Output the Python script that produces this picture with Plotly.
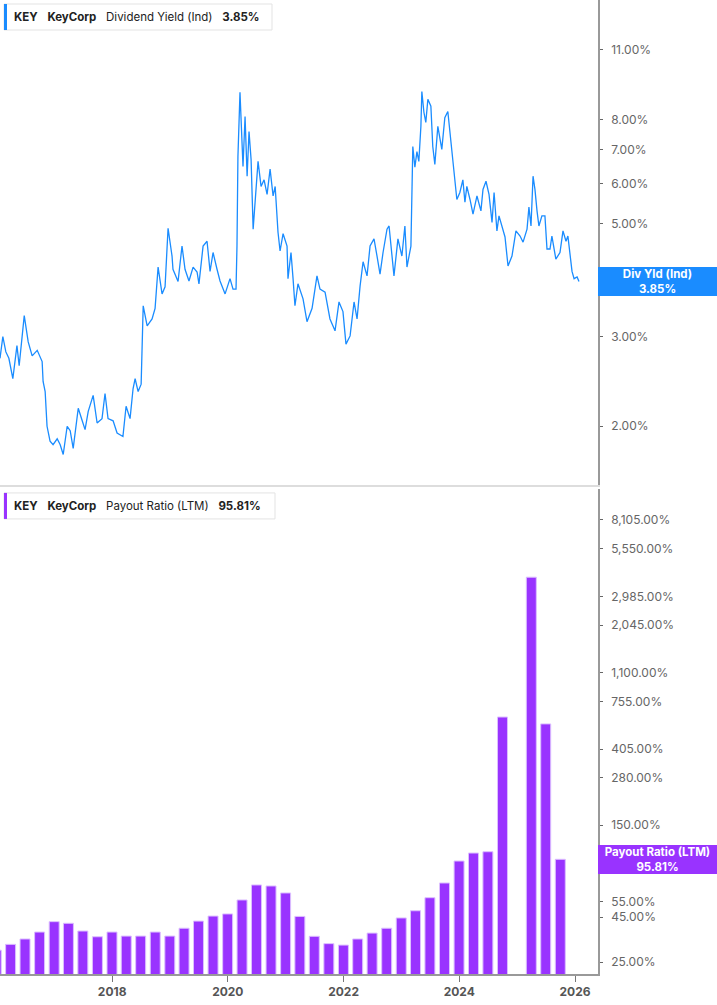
import math
import plotly.graph_objects as go
from plotly.subplots import make_subplots

# ---------------- data ----------------
yield_dates = [
    "2016-01-24", "2016-02-11", "2016-03-01", "2016-03-20", "2016-04-14", "2016-05-10", "2016-05-24",
    "2016-06-25", "2016-07-20", "2016-08-14", "2016-09-15", "2016-10-16", "2016-10-22", "2016-11-04",
    "2016-11-16", "2016-12-05", "2016-12-24", "2017-01-19", "2017-02-07", "2017-02-26", "2017-03-23",
    "2017-04-11", "2017-04-30", "2017-06-01", "2017-06-26", "2017-07-14", "2017-08-03", "2017-09-03",
    "2017-09-28", "2017-10-29", "2017-11-17", "2017-12-06", "2018-01-07", "2018-02-01", "2018-03-10",
    "2018-03-30", "2018-04-24", "2018-05-13", "2018-05-26", "2018-06-14", "2018-07-03", "2018-07-16",
    "2018-08-10", "2018-09-10", "2018-09-29", "2018-10-18", "2018-11-12", "2018-12-01", "2018-12-20",
    "2019-01-14", "2019-01-20", "2019-02-21", "2019-03-18", "2019-04-06", "2019-05-01", "2019-05-27",
    "2019-06-21", "2019-07-03", "2019-07-29", "2019-08-23", "2019-09-11", "2019-09-30", "2019-10-25",
    "2019-11-13", "2019-12-15", "2020-01-15", "2020-02-03", "2020-02-22", "2020-02-28", "2020-03-05",
    "2020-03-18", "2020-04-06", "2020-04-19", "2020-05-02", "2020-05-14", "2020-05-27", "2020-06-09",
    "2020-06-21", "2020-07-10", "2020-07-29", "2020-08-17", "2020-09-05", "2020-09-24", "2020-10-13",
    "2020-10-26", "2020-11-13", "2020-11-26", "2020-12-15", "2021-01-09", "2021-01-15", "2021-02-03",
    "2021-02-16", "2021-02-28", "2021-03-19", "2021-04-01", "2021-04-20", "2021-05-15", "2021-06-16",
    "2021-07-17", "2021-08-05", "2021-09-06", "2021-10-07", "2021-11-08", "2021-12-03", "2021-12-28",
    "2022-01-16", "2022-02-11", "2022-03-08", "2022-03-27", "2022-04-15", "2022-05-04", "2022-05-29",
    "2022-06-17", "2022-07-12", "2022-07-31", "2022-08-19", "2022-09-07", "2022-10-02", "2022-10-15",
    "2022-11-15", "2022-12-10", "2023-01-04", "2023-01-23", "2023-02-05", "2023-03-02", "2023-03-14",
    "2023-03-27", "2023-04-09", "2023-04-21", "2023-05-04", "2023-05-10", "2023-05-23", "2023-06-04",
    "2023-06-17", "2023-07-06", "2023-07-18", "2023-07-31", "2023-08-19", "2023-09-13", "2023-10-02",
    "2023-10-21", "2023-11-09", "2023-11-22", "2023-12-04", "2023-12-17", "2024-01-05", "2024-01-24",
    "2024-02-06", "2024-02-18", "2024-03-09", "2024-03-28", "2024-04-22", "2024-05-17", "2024-05-30",
    "2024-06-18", "2024-07-07", "2024-07-26", "2024-08-08", "2024-08-26", "2024-09-08", "2024-09-27",
    "2024-10-16", "2024-11-04", "2024-11-29", "2024-12-24", "2025-01-19", "2025-02-07", "2025-03-04",
    "2025-03-16", "2025-03-29", "2025-04-11", "2025-04-23", "2025-05-06", "2025-05-18", "2025-06-06",
    "2025-06-25", "2025-07-08", "2025-07-27", "2025-08-08", "2025-09-02", "2025-09-28", "2025-10-17",
    "2025-11-05", "2025-11-17", "2025-12-13", "2025-12-26", "2026-01-14", "2026-01-26",
]
yield_values = [
    2.72, 3.00, 2.80, 2.72, 2.48, 2.88, 2.63,
    3.30, 2.93, 2.75, 2.82, 2.68, 2.45, 2.34,
    2.00, 1.87, 1.84, 1.89, 1.84, 1.76, 2.00,
    1.96, 1.81, 2.17, 2.05, 1.97, 2.14, 2.30,
    2.03, 2.07, 2.32, 2.07, 2.05, 1.94, 1.91,
    2.19, 2.07, 2.37, 2.48, 2.34, 2.42, 3.45,
    3.15, 3.25, 3.41, 4.11, 3.64, 3.76, 4.90,
    4.32, 4.07, 3.85, 4.52, 4.07, 3.86, 4.11,
    4.02, 3.81, 4.52, 4.62, 4.03, 4.39, 4.07,
    3.86, 3.64, 3.90, 3.72, 3.72, 4.52, 6.78,
    9.06, 6.48, 8.12, 6.20, 7.59, 6.69, 4.88,
    5.58, 6.63, 5.92, 6.10, 5.71, 6.40, 5.67,
    5.92, 4.81, 4.42, 4.78, 4.52, 3.90, 4.39,
    3.90, 3.45, 3.81, 3.72, 3.56, 3.21, 3.41,
    3.95, 3.72, 3.67, 3.25, 3.08, 3.51, 3.36,
    2.90, 3.01, 3.51, 3.25, 3.77, 4.21, 3.95,
    4.52, 4.67, 4.32, 3.98, 4.39, 4.88, 4.95,
    3.95, 4.67, 4.32, 4.95, 4.11, 4.52, 7.09,
    6.46, 6.93, 6.63, 7.77, 9.09, 8.28, 7.91,
    8.78, 8.51, 7.09, 6.54, 7.77, 7.00, 8.08,
    8.31, 7.32, 6.69, 6.06, 5.58, 5.76, 6.10,
    5.51, 5.92, 5.58, 5.22, 5.67, 5.30, 5.84,
    6.06, 5.71, 5.03, 5.76, 4.84, 5.18, 4.95,
    4.71, 4.13, 4.32, 4.84, 4.73, 4.60, 4.88,
    5.39, 4.95, 6.20, 5.84, 5.30, 4.95, 5.18,
    5.18, 4.46, 4.46, 4.73, 4.26, 4.39, 4.84,
    4.62, 4.73, 4.03, 3.90, 3.93, 3.85,
]

payout_dates = [
    "2015-12-31", "2016-03-31", "2016-06-30", "2016-09-30", "2016-12-31",
    "2017-03-31", "2017-06-30", "2017-09-30", "2017-12-31",
    "2018-03-31", "2018-06-30", "2018-09-30", "2018-12-31",
    "2019-03-31", "2019-06-30", "2019-09-30", "2019-12-31",
    "2020-03-31", "2020-06-30", "2020-09-30", "2020-12-31",
    "2021-03-31", "2021-06-30", "2021-09-30", "2021-12-31",
    "2022-03-31", "2022-06-30", "2022-09-30", "2022-12-31",
    "2023-03-31", "2023-06-30", "2023-09-30", "2023-12-31",
    "2024-03-31", "2024-06-30", "2024-09-30", "2024-12-31",
    "2025-03-31", "2025-06-30", "2025-09-30",
]
payout_values = [
    29.2, 31.5, 33.8, 37.0, 42.4,
    41.5, 37.5, 34.8, 37.0,
    35.1, 35.1, 37.0, 35.1,
    38.9, 42.7, 45.6, 46.9,
    56.3, 68.5, 67.6, 61.7,
    45.4, 35.0, 31.8, 31.2,
    33.8, 36.5, 38.9, 44.5,
    48.9, 58.0, 70.3, 93.7,
    104.0, 105.8, 616.0, None,
    3835.0, 563.0, 95.81,
]

yield_tickvals = [2, 3, 4, 5, 6, 7, 8, 11]
yield_ticktext = ["2.00%", "3.00%", "4.00%", "5.00%", "6.00%", "7.00%", "8.00%", "11.00%"]
payout_tickvals = [25, 45, 55, 150, 280, 405, 755, 1100, 2045, 2985, 5550, 8105]
payout_ticktext = ["25.00%", "45.00%", "55.00%", "150.00%", "280.00%", "405.00%", "755.00%",
                   "1,100.00%", "2,045.00%", "2,985.00%", "5,550.00%", "8,105.00%"]
year_ticks = ["2018-01-01", "2020-01-01", "2022-01-01", "2024-01-01", "2026-01-01"]

ticker = "KEY"
company = "KeyCorp"
yield_name = "Dividend Yield (Ind)"
payout_name = "Payout Ratio (LTM)"
yield_last = 3.85
payout_last = 95.81

# ---------------- style ----------------
BLUE = "#1a8cff"
PURPLE = "#9933ff"
FONT = "Inter"
W, H = 717, 1005
ML, MR, MT, MB = 0, 119, 0, 31
TOP_DOM = [0.502, 1.0]
BOT_DOM = [0.0, 0.498]

fig = make_subplots(rows=2, cols=1, shared_xaxes=True, vertical_spacing=0.004)

fig.add_trace(go.Scatter(x=yield_dates, y=yield_values, mode="lines",
                         line=dict(color=BLUE, width=1.3), hoverinfo="skip",
                         showlegend=False), row=1, col=1)
fig.add_trace(go.Bar(x=payout_dates, y=payout_values,
                     marker=dict(color=PURPLE, line=dict(color="#dcbfff", width=1)),
                     width=[63 * 86400000] * len(payout_dates),
                     hoverinfo="skip", showlegend=False), row=2, col=1)

xrange = ["2016-01-24", "2026-05-26"]
fig.update_xaxes(range=xrange, showgrid=False, zeroline=False)
fig.update_layout(
    xaxis=dict(domain=[0, 1], showticklabels=False, ticks="", showline=True,
               linecolor="#dddddd", linewidth=2),
    xaxis2=dict(domain=[0, 1], showline=True, linecolor="#999999", linewidth=1.5,
                ticks="outside", ticklen=6, tickcolor="#777777", tickwidth=1,
                tickvals=year_ticks, ticktext=[t[:4] for t in year_ticks],
                tickfont=dict(family=FONT, size=12, color="#555555", weight="bold")),
    yaxis=dict(domain=TOP_DOM, type="log", side="right",
               range=[math.log10(1.533), math.log10(13.76)],
               tickvals=yield_tickvals, ticktext=yield_ticktext,
               showgrid=False, zeroline=False, showline=True, linecolor="#999999", linewidth=1.5,
               ticks="outside", ticklen=3, tickcolor="#666666",
               ticklabelstandoff=6,
               tickfont=dict(family=FONT, size=12, color="#666666")),
    yaxis2=dict(domain=BOT_DOM, type="log", side="right",
                range=[1.330, 4.085],
                tickvals=payout_tickvals, ticktext=payout_ticktext,
                showgrid=False, zeroline=False, showline=True, linecolor="#999999", linewidth=1.5,
                ticks="outside", ticklen=3, tickcolor="#666666",
                ticklabelstandoff=6,
                tickfont=dict(family=FONT, size=12, color="#666666")),
    width=W, height=H,
    margin=dict(l=ML, r=MR, t=MT, b=MB),
    paper_bgcolor="white", plot_bgcolor="white",
    bargap=0.3,
)

shapes = []
annotations = []


def header(ytop, width, color, name, last):
    shapes.append(dict(type="rect", xref="paper", yref="paper", layer="above",
                       xsizemode="pixel", ysizemode="pixel", xanchor=0, yanchor=ytop,
                       x0=4, x1=4 + width, y0=-30, y1=-4,
                       fillcolor="white", line=dict(color="#e3e3e3", width=1)))
    shapes.append(dict(type="rect", xref="paper", yref="paper", layer="above",
                       xsizemode="pixel", ysizemode="pixel", xanchor=0, yanchor=ytop,
                       x0=4, x1=7, y0=-30, y1=-4,
                       fillcolor=color, line=dict(width=0)))
    sp = "&nbsp;&nbsp;&nbsp;"
    annotations.append(dict(xref="paper", yref="paper", x=0, y=ytop, xshift=12, yshift=-17,
                            xanchor="left", yanchor="middle", showarrow=False,
                            text=f"<b>{ticker}</b>{sp}<b>{company}</b>{sp}{name}{sp}<b>{last:.2f}%</b>",
                            font=dict(family=FONT, size=11.5, color="#222222")))


header(1.0, 268, BLUE, yield_name, yield_last)
header(BOT_DOM[1], 271, PURPLE, payout_name, payout_last)

annotations.append(dict(xref="paper", yref="y", x=1, y=math.log10(yield_last),
                        xanchor="left", yanchor="middle", showarrow=False,
                        width=119, height=29, bgcolor=BLUE, borderpad=0, borderwidth=0,
                        text=f"<b>Div Yld (Ind)</b><br><b>{yield_last:.2f}%</b>",
                        font=dict(family=FONT, size=11.5, color="white")))
annotations.append(dict(xref="paper", yref="y2", x=1, y=math.log10(payout_last),
                        xanchor="left", yanchor="middle", showarrow=False,
                        width=119, height=29, bgcolor=PURPLE, borderpad=0, borderwidth=0,
                        text=f"<b>{payout_name}</b><br><b>{payout_last:.2f}%</b>",
                        font=dict(family=FONT, size=11.5, color="white")))

fig.update_layout(shapes=shapes, annotations=annotations)
fig.write_html("out.html", config={"displayModeBar": False},
               post_script="document.body.style.margin='0px';document.body.style.overflow='hidden';")
